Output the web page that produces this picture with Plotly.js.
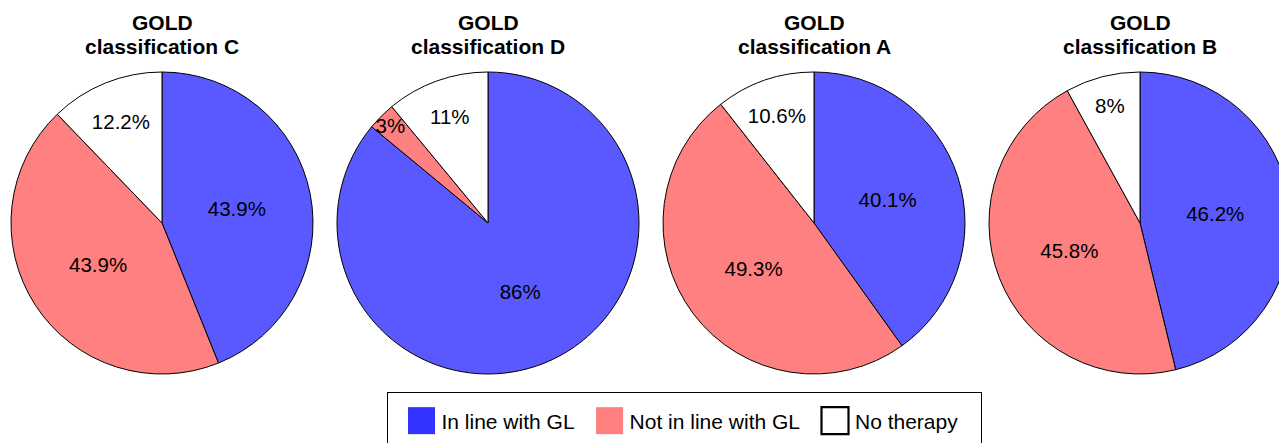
<!DOCTYPE html>
<html>
<head>
<meta charset="utf-8">
<script src="https://cdn.plot.ly/plotly-3.0.1.min.js"></script>
<style>
  html, body { margin: 0; padding: 0; overflow: hidden; background: #fff; }
  #chart { width: 1300px; height: 443px; }
</style>
</head>
<body>
<div id="chart"></div>
<script>
// ---- data ----
const groupTitles = ["classification C", "classification D", "classification A", "classification B"];
const titleTop = "GOLD";
const categories = ["In line with GL", "Not in line with GL", "No therapy"];
const valuesC = [43.9, 43.9, 12.2];
const valuesD = [86, 3, 11];
const valuesA = [40.1, 49.3, 10.6];
const valuesB = [46.2, 45.8, 8];
const seriesValues = [valuesC, valuesD, valuesA, valuesB];
const sliceColors = ["#5959FF", "#FF8080", "#FFFFFF"];
const legendColors = ["#3333FF", "#FF7F7F", "#FFFFFF"];

// ---- layout geometry ----
const W = 1300, H = 443;
const R = 151;           // pie radius in px
const cx0 = 162, dx = 326, cy = 223;
const FONT = "Liberation Sans, Arial, sans-serif";

// legend box geometry
const LEG_X = 386.5, LEG_Y = 392, LEG_W = 594.5, LEG_H = 56;
const LEG_SHIFT_X = 4, LEG_SHIFT_Y = 7.5, SWATCH_SCALE = 2.25;

const traces = [];
const annotations = [];
seriesValues.forEach((vals, i) => {
  const cx = cx0 + dx * i;
  traces.push({
    type: "pie",
    labels: categories,
    values: vals,
    sort: false,
    direction: "clockwise",
    rotation: 0,
    marker: { colors: sliceColors, line: { color: "#000000", width: 1 } },
    textinfo: "percent",
    textposition: "inside",
    insidetextorientation: "horizontal",
    textfont: { family: FONT, size: 20.5, color: "#000000" },
    hoverinfo: "skip",
    domain: {
      x: [(cx - R) / W, (cx + R) / W],
      y: [(H - cy - R) / H, (H - cy + R) / H]
    },
    showlegend: i === 0
  });
  annotations.push({
    text: "<b>" + titleTop + "</b>", xref: "paper", yref: "paper",
    x: cx / W, y: (H - 22) / H, xanchor: "center", yanchor: "middle",
    showarrow: false, font: { family: FONT, size: 21, color: "#000" }
  });
  annotations.push({
    text: "<b>" + groupTitles[i] + "</b>", xref: "paper", yref: "paper",
    x: cx / W, y: (H - 46) / H, xanchor: "center", yanchor: "middle",
    showarrow: false, font: { family: FONT, size: 21, color: "#000" }
  });
});

const layout = {
  width: W, height: H,
  margin: { l: 0, r: 0, t: 0, b: 0 },
  paper_bgcolor: "#ffffff",
  font: { family: FONT, color: "#000" },
  showlegend: true,
  legend: {
    orientation: "h",
    x: LEG_X / W, y: (H - LEG_Y) / H, xanchor: "left", yanchor: "top",
    bordercolor: "#000000", borderwidth: 1,
    itemwidth: 40,
    font: { family: FONT, size: 21, color: "#000" },
    traceorder: "normal"
  },
  uniformtext: { mode: "show", minsize: 20.5 },
  annotations: annotations
};

Plotly.newPlot("chart", traces, layout, { displayModeBar: false, staticPlot: true }).then(gd => {
  const leg = gd.querySelector(".legend");
  if (!leg) return;
  const bg = leg.querySelector("rect.bg");
  if (bg) { bg.setAttribute("width", LEG_W); bg.setAttribute("height", LEG_H); }
  const sb = leg.querySelector(".scrollbox");
  if (sb) {
    sb.removeAttribute("clip-path");
    const grp = sb.querySelector(".groups") || sb;
    const prev = grp.getAttribute("transform") || "";
    grp.setAttribute("transform", prev + " translate(" + LEG_SHIFT_X + "," + LEG_SHIFT_Y + ")");
  }
  leg.querySelectorAll(".traces").forEach((tr, k) => {
    const txt = tr.querySelector("text.legendtext");
    const tx = txt ? parseFloat(txt.getAttribute("x")) || 40 : 40;
    const p = tr.querySelector(".legendpoints path");
    if (!p) return;
    p.setAttribute("transform", "translate(" + (tx - 20) + ",0) scale(" + SWATCH_SCALE + ")");
    const c = legendColors[k % legendColors.length];
    p.style.fill = c;
    if (c.toUpperCase() === "#FFFFFF") {
      p.style.stroke = "#000";
      p.style.strokeWidth = (2.2 / SWATCH_SCALE) + "px";
    } else {
      p.style.strokeWidth = "0px";
    }
  });
});
</script>
</body>
</html>
